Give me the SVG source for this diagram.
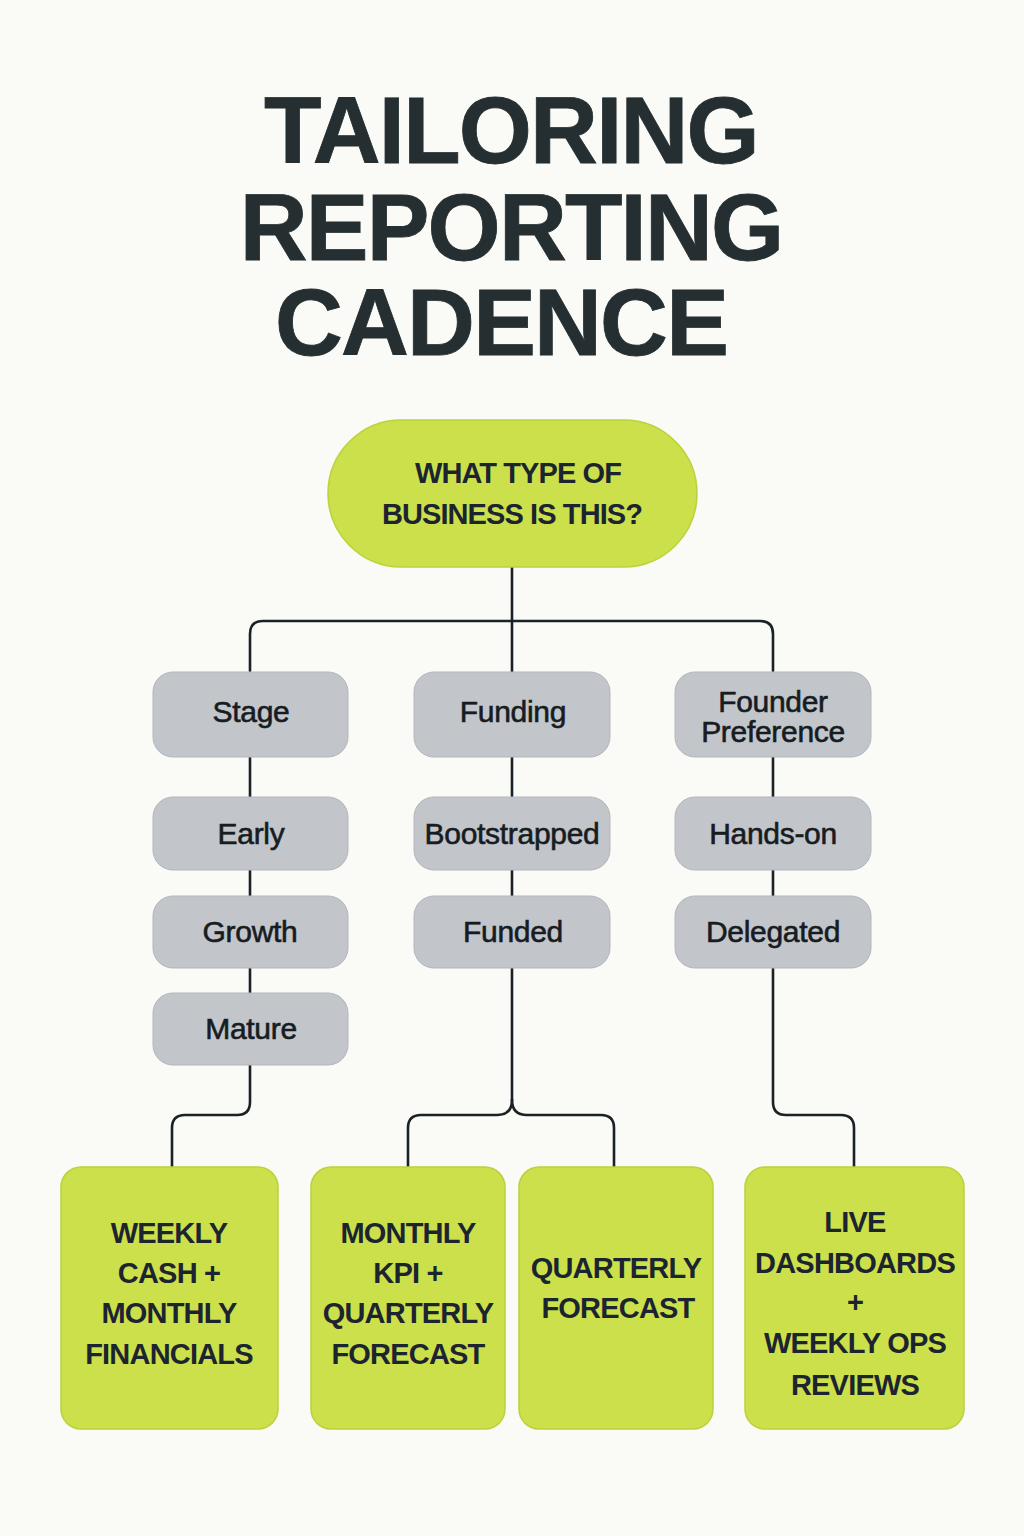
<svg xmlns="http://www.w3.org/2000/svg" width="1024" height="1536" viewBox="0 0 1024 1536">
<style>
.title{font-family:"Liberation Sans",Arial,sans-serif;font-weight:bold;font-size:94px;fill:#252f31;letter-spacing:-1.8px;text-anchor:middle;stroke:#252f31;stroke-width:0.8}
.q{font-family:"Liberation Sans",Arial,sans-serif;font-weight:bold;font-size:29px;fill:#1c2430;letter-spacing:-0.9px;text-anchor:middle}
.g{fill:#c2c5ca;stroke:#b3b7bd;stroke-width:1}
.gt{font-family:"Liberation Sans",Arial,sans-serif;font-size:30px;fill:#161c22;text-anchor:middle;stroke:#161c22;stroke-width:0.6;letter-spacing:-0.3px}
.l{fill:#cbe04a;stroke:#bcd13c;stroke-width:1.5}
.lt{font-family:"Liberation Sans",Arial,sans-serif;font-weight:bold;font-size:29px;fill:#1c2430;letter-spacing:-0.8px;text-anchor:middle}
.c{fill:none;stroke:#1a2228;stroke-width:2.6;stroke-linecap:round;stroke-linejoin:round}
</style>
<rect width="1024" height="1536" fill="#fafaf6"/>
<g id="title">
<text class="title" x="511" y="163">TAILORING</text>
<text class="title" x="511" y="260">REPORTING</text>
<text class="title" x="501" y="355">CADENCE</text>
</g>
<g id="connectors">
<path class="c" d="M512,567 V1100"/>
<path class="c" d="M250,671 V634 Q250,621 263,621 H760 Q773,621 773,634 V671"/>
<path class="c" d="M250,757 V1102 Q250,1115 237,1115 H185 Q172,1115 172,1128 V1167"/>
<path class="c" d="M512,1100 Q512,1115 497,1115 H421 Q408,1115 408,1128 V1167"/>
<path class="c" d="M512,1100 Q512,1115 527,1115 H601 Q614,1115 614,1128 V1167"/>
<path class="c" d="M773,757 V1102 Q773,1115 786,1115 H841 Q854,1115 854,1128 V1167"/>
</g>
<g id="root">
<rect class="l" x="328" y="420" width="369" height="147" rx="73.5"/>
<text class="q" x="518" y="483">WHAT TYPE OF</text>
<text class="q" x="512" y="524">BUSINESS IS THIS?</text>
</g>
<g id="stage"><rect class="g" x="153" y="672" width="195" height="85" rx="20"/><text class="gt" x="251" y="722">Stage</text></g>
<g id="funding"><rect class="g" x="414" y="672" width="196" height="85" rx="20"/><text class="gt" x="513" y="722">Funding</text></g>
<g id="founder"><rect class="g" x="675" y="672" width="196" height="85" rx="20"/><text class="gt" x="773" y="712">Founder</text><text class="gt" x="773" y="742">Preference</text></g>
<g id="early"><rect class="g" x="153" y="797" width="195" height="73" rx="20"/><text class="gt" x="251" y="844">Early</text></g>
<g id="growth"><rect class="g" x="153" y="896" width="195" height="72" rx="20"/><text class="gt" x="250" y="942">Growth</text></g>
<g id="mature"><rect class="g" x="153" y="993" width="195" height="72" rx="20"/><text class="gt" x="251" y="1039">Mature</text></g>
<g id="bootstrapped"><rect class="g" x="414" y="797" width="196" height="73" rx="20"/><text class="gt" x="512" y="844">Bootstrapped</text></g>
<g id="funded"><rect class="g" x="414" y="896" width="196" height="72" rx="20"/><text class="gt" x="513" y="942">Funded</text></g>
<g id="handson"><rect class="g" x="675" y="797" width="196" height="73" rx="20"/><text class="gt" x="773" y="844">Hands-on</text></g>
<g id="delegated"><rect class="g" x="675" y="896" width="196" height="72" rx="20"/><text class="gt" x="773" y="942">Delegated</text></g>
<g id="out1"><rect class="l" x="61" y="1167" width="217" height="262" rx="20"/>
<text class="lt" x="169" y="1243">WEEKLY</text><text class="lt" x="169" y="1283">CASH +</text><text class="lt" x="169" y="1323">MONTHLY</text><text class="lt" x="169" y="1364">FINANCIALS</text></g>
<g id="out2"><rect class="l" x="311" y="1167" width="194" height="262" rx="20"/>
<text class="lt" x="408" y="1243">MONTHLY</text><text class="lt" x="408" y="1283">KPI +</text><text class="lt" x="408" y="1323">QUARTERLY</text><text class="lt" x="408" y="1364">FORECAST</text></g>
<g id="out3"><rect class="l" x="519" y="1167" width="194" height="262" rx="20"/>
<text class="lt" x="616" y="1278">QUARTERLY</text><text class="lt" x="618" y="1318">FORECAST</text></g>
<g id="out4"><rect class="l" x="745" y="1167" width="219" height="262" rx="20"/>
<text class="lt" x="855" y="1232">LIVE</text><text class="lt" x="855" y="1273">DASHBOARDS</text><text class="lt" x="855" y="1312">+</text><text class="lt" x="855" y="1353">WEEKLY OPS</text><text class="lt" x="855" y="1395">REVIEWS</text></g>
</svg>
